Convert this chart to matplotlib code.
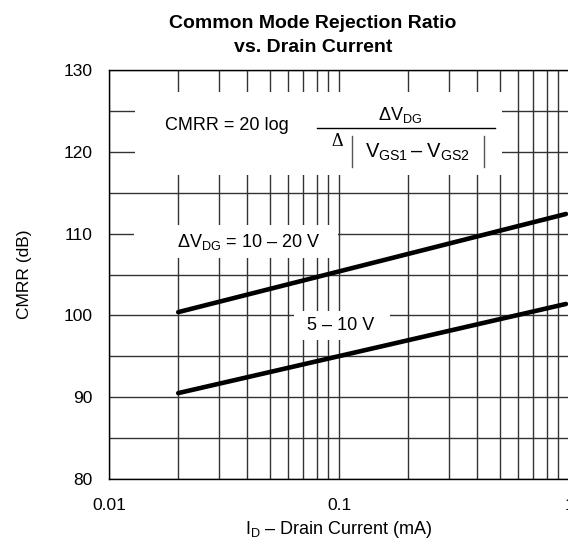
import matplotlib
matplotlib.use('Agg')
import matplotlib.pyplot as plt
from matplotlib.patches import Rectangle
from matplotlib.lines import Line2D
from matplotlib.ticker import LogLocator, MultipleLocator, NullFormatter

plt.rcParams['font.family'] = ['Liberation Sans', 'DejaVu Sans']
plt.rcParams['mathtext.fontset'] = 'custom'
plt.rcParams['mathtext.rm'] = 'Liberation Sans'
plt.rcParams['mathtext.it'] = 'Liberation Sans:italic'
plt.rcParams['mathtext.bf'] = 'Liberation Sans:bold'

# ---- data ----
current_ma = [0.02, 0.97]
cmrr_10_20 = [100.4, 112.4]
cmrr_5_10 = [90.5, 101.4]
x_ticks = [0.01, 0.1, 1]
x_tick_labels = ['0.01', '0.1', '1']
y_ticks = [80, 90, 100, 110, 120, 130]

W, H = 568, 541
fig = plt.figure(figsize=(W / 100, H / 100), dpi=100)


def fx(px):
    return px / W


def fy(py):
    return 1 - py / H


ax = fig.add_axes([fx(109), fy(479), (569 - 109) / W, (479 - 70) / H])
ax.set_xscale('log')
ax.set_xlim(0.01, 1)
ax.set_ylim(80, 130)
ax.set_xticks(x_ticks)
ax.set_xticklabels(x_tick_labels)
ax.set_yticks(y_ticks)
ax.xaxis.set_minor_locator(LogLocator(base=10, subs=range(2, 10)))
ax.xaxis.set_minor_formatter(NullFormatter())
ax.yaxis.set_minor_locator(MultipleLocator(5))
ax.grid(True, which='both', color='#333333', linewidth=1.0)
ax.tick_params(which='both', length=0, labelsize=12.5)
ax.tick_params(axis='x', pad=13.5)
ax.tick_params(axis='y', pad=12)
for s in ax.spines.values():
    s.set_linewidth(1.0)
    s.set_color('black')

ax.plot(current_ma, cmrr_10_20, color='black', linewidth=3.3, zorder=3,
        solid_capstyle='round', clip_on=False)
ax.plot(current_ma, cmrr_5_10, color='black', linewidth=3.3, zorder=3,
        solid_capstyle='round', clip_on=False)

# white boxes behind the annotation texts (break the grid)
for (x0, y0, x1, y1) in [(135, 92, 502, 175), (134, 225, 338, 258), (294, 311, 390, 340)]:
    ax.add_patch(Rectangle((fx(x0), fy(y1)), fx(x1) - fx(x0), fy(y0) - fy(y1),
                           transform=fig.transFigure, facecolor='white',
                           edgecolor='none', zorder=1.8, clip_on=False))

tkw = dict(transform=fig.transFigure, zorder=4, fontsize=13)
ax.text(fx(165), fy(125), 'CMRR = 20 log', ha='left', va='center', **tkw)
ax.text(fx(400), fy(115), r'ΔV$_{\mathrm{DG}}$', ha='center', va='center', **tkw)
ax.add_line(Line2D([fx(317), fx(495)], [fy(128), fy(128)], transform=fig.transFigure,
                   color='black', linewidth=1.0, clip_on=False, zorder=4))
ax.text(fx(337), fy(141), 'Δ', ha='center', va='center', family='Liberation Serif',
        transform=fig.transFigure, zorder=4, fontsize=13)
for xb in (352, 484):
    ax.add_line(Line2D([fx(xb), fx(xb)], [fy(136), fy(167)], transform=fig.transFigure,
                       color='#555555', linewidth=1.0, clip_on=False, zorder=4))
ax.text(fx(418), fy(152), r'V$_{\mathrm{GS1}}$$\,$– V$_{\mathrm{GS2}}$', ha='center', va='center',
        transform=fig.transFigure, zorder=4, fontsize=14.5)
ax.text(fx(177), fy(242), r'ΔV$_{\mathrm{DG}}$ = 10 – 20 V', ha='left', va='center', **tkw)
ax.text(fx(341), fy(325), '5 – 10 V', ha='center', va='center', **tkw)

fig.text(fx(313), fy(24), 'Common Mode Rejection Ratio', ha='center', va='center',
         fontsize=14, fontweight='bold')
fig.text(fx(313), fy(47), 'vs. Drain Current', ha='center', va='center',
         fontsize=14, fontweight='bold')
fig.text(fx(339), fy(530), r'I$_{\mathrm{D}}$ – Drain Current (mA)', ha='center', va='center',
         fontsize=13)
fig.text(fx(25), fy(274), 'CMRR (dB)', ha='center', va='center', rotation=90, fontsize=12.5)

fig.savefig('out.png', dpi=100)
